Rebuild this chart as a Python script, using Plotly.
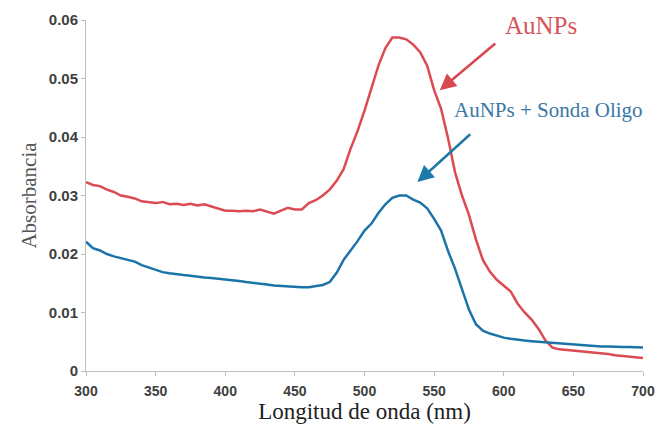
import plotly.graph_objects as go

wavelength = list(range(300, 705, 5))

aunps = [
    0.0323, 0.0318, 0.0316, 0.0310, 0.0306, 0.0300, 0.0298, 0.0295, 0.0290, 0.0289,
    0.0287, 0.0289, 0.0285, 0.0286, 0.0284, 0.0286, 0.0283, 0.0285, 0.0281, 0.0277,
    0.0274, 0.0274, 0.0273, 0.0274, 0.0273, 0.0276, 0.0272, 0.0269, 0.0274, 0.0279,
    0.0276, 0.0276, 0.0287, 0.0292, 0.0300, 0.0310, 0.0325, 0.0345, 0.0380, 0.0410,
    0.0445, 0.0485, 0.0522, 0.0552, 0.0570, 0.0570, 0.0567, 0.0558, 0.0545, 0.0522,
    0.0480, 0.0448, 0.0398, 0.0340, 0.0300, 0.0267, 0.0225, 0.0190, 0.0170, 0.0156,
    0.0146, 0.0136, 0.0115, 0.0100, 0.0088, 0.0072, 0.0052, 0.0040, 0.0037, 0.0036,
    0.0035, 0.0034, 0.0032, 0.0031, 0.0030, 0.0029, 0.0027, 0.0026, 0.0025, 0.0023,
    0.0022,
]

aunps_oligo = [
    0.0221, 0.0210, 0.0206, 0.0200, 0.0196, 0.0193, 0.0191, 0.0187, 0.0181, 0.0177,
    0.0172, 0.0169, 0.0167, 0.0165, 0.0164, 0.0163, 0.0161, 0.0160, 0.0159, 0.0158,
    0.0157, 0.0155, 0.0154, 0.0152, 0.0151, 0.0149, 0.0148, 0.0146, 0.0145, 0.0145,
    0.0144, 0.0143, 0.0143, 0.0145, 0.0147, 0.0152, 0.0168, 0.0190, 0.0205, 0.0222,
    0.0240, 0.0252, 0.0270, 0.0285, 0.0296, 0.0300, 0.0300, 0.0293, 0.0288, 0.0278,
    0.0260, 0.0240, 0.0205, 0.0175, 0.0140, 0.0105, 0.0080, 0.0069, 0.0064, 0.0060,
    0.0057, 0.0055, 0.0053, 0.0052, 0.0051, 0.0050, 0.0049, 0.0048, 0.0047, 0.0046,
    0.0045, 0.0044, 0.0044, 0.0043, 0.0042, 0.0042, 0.0041, 0.0041, 0.0041, 0.0040,
    0.0040,
]

x_ticks = [300, 350, 400, 450, 500, 550, 600, 650, 700]
y_ticks = [0, 0.01, 0.02, 0.03, 0.04, 0.05, 0.06]
y_tick_labels = ["0", "0.01", "0.02", "0.03", "0.04", "0.05", "0.06"]

RED = "#dc4a52"
BLUE = "#1b74a8"
SERIF = "Liberation Serif, Times New Roman, serif"

fig = go.Figure()
fig.add_trace(go.Scatter(x=wavelength, y=aunps, mode="lines", name="AuNPs",
                         line=dict(color=RED, width=2.5)))
fig.add_trace(go.Scatter(x=wavelength, y=aunps_oligo, mode="lines", name="AuNPs + Sonda Oligo",
                         line=dict(color=BLUE, width=2.5)))

fig.add_annotation(x=627, y=0.0590, text="AuNPs", showarrow=False,
                   font=dict(family=SERIF, size=25, color="#d9535a"))
fig.add_annotation(x=554, y=0.048, ax=595, ay=0.0562, axref="x", ayref="y",
                   text="", showarrow=True, arrowhead=2, arrowsize=1.3, arrowwidth=2.5,
                   arrowcolor="#d9484f")
fig.add_annotation(x=632, y=0.0446, text="AuNPs + Sonda Oligo", showarrow=False,
                   font=dict(family=SERIF, size=21, color="#3a78a6"))
fig.add_annotation(x=538, y=0.0323, ax=577, ay=0.0407, axref="x", ayref="y",
                   text="", showarrow=True, arrowhead=2, arrowsize=1.3, arrowwidth=2.5,
                   arrowcolor="#1b7aa8")

fig.update_layout(
    width=656, height=425,
    margin=dict(l=86, r=13, t=20, b=54),
    paper_bgcolor="white", plot_bgcolor="white",
    showlegend=False,
    font=dict(family="Liberation Sans", color="#404040"),
)
fig.update_xaxes(
    range=[300, 700], tickvals=x_ticks, showgrid=False, zeroline=False, automargin=False,
    showline=True, linecolor="#bfbfbf", linewidth=1,
    ticks="outside", ticklen=4, tickcolor="#bfbfbf", ticklabelstandoff=3,
    tickfont=dict(family="Liberation Sans", size=14, color="#404040", weight="bold"),
    title=dict(text="Longitud de onda (nm)", standoff=3,
               font=dict(family=SERIF, size=23, color="#222222", weight="normal")),
)
fig.update_yaxes(
    range=[0, 0.06], tickvals=y_ticks, ticktext=y_tick_labels, showgrid=False, zeroline=False,
    automargin=False,
    showline=True, linecolor="#bfbfbf", linewidth=1,
    ticks="outside", ticklen=4, tickcolor="#bfbfbf",
    tickfont=dict(family="Liberation Sans", size=15, color="#404040", weight="bold"),
    title=dict(text="Absorbancia", standoff=6,
               font=dict(family=SERIF, size=21, color="#555555", weight="normal")),
)

fig.write_html("out.html")
